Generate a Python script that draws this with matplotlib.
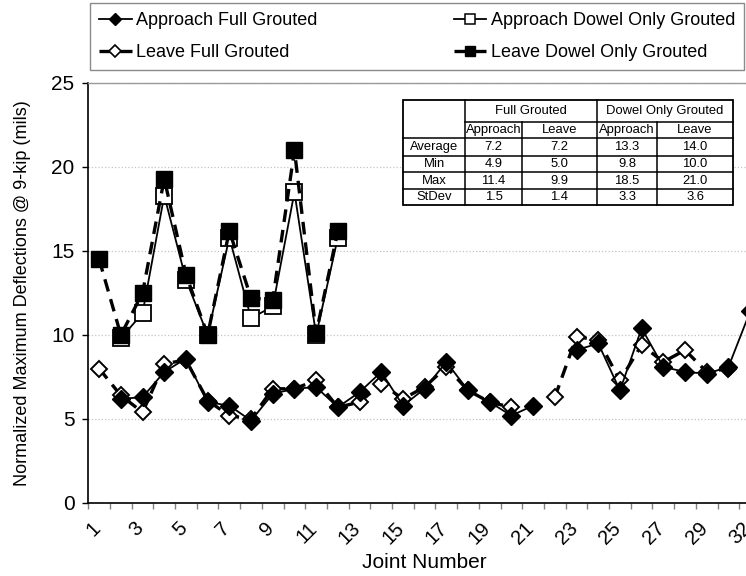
import numpy as np
import matplotlib
matplotlib.use("Agg")
import matplotlib.pyplot as plt
from matplotlib.lines import Line2D
from matplotlib.patches import Rectangle
from matplotlib.ticker import FixedLocator
import matplotlib.transforms as mtransforms
from matplotlib import font_manager

names = {f.name for f in font_manager.fontManager.ttflist}
NARROW = 'Liberation Sans Narrow' in names
if NARROW:
    plt.rcParams['font.family'] = ['Liberation Sans Narrow', 'Liberation Sans', 'DejaVu Sans']
    k = 1.18
else:
    plt.rcParams['font.family'] = ['Liberation Sans', 'DejaVu Sans']
    k = 1.0

nan = np.nan
# ---------------- data ----------------
joints = [1, 2, 3, 4, 5, 6, 7, 8, 9, 10, 11, 12, 13, 14, 15, 16, 17, 18, 19, 20,
          21, 22, 23, 24, 25, 26, 27, 28, 29, 30, 32]
approach_full = [nan, 6.2, 6.3, 7.8, 8.6, 6.0, 5.8, 4.9, 6.5, 6.8, 6.9, 5.7, 6.6, 7.8, 5.8, 6.8,
                 8.4, 6.7, 6.0, 5.2, 5.8, nan, 9.1, 9.5, 6.7, 10.4, 8.1, 7.8, 7.7, 8.1, 11.4]
leave_full = [8.0, 6.4, 5.4, 8.3, 8.5, 6.1, 5.2, 5.0, 6.8, 6.8, 7.3, 5.7, 6.0, 7.1, 6.2, 6.9,
              8.1, 6.7, 6.0, 5.7, nan, 6.3, 9.9, 9.7, 7.3, 9.4, 8.4, 9.1, 7.8, 8.0, nan]
# dowel-only grouted joints: 1..12
approach_dowel = [nan, 9.8, 11.3, 18.3, 13.3, 10.0, 15.8, 11.0, 11.7, 18.5, 10.0, 15.8]
leave_dowel = [14.5, 10.0, 12.5, 19.3, 13.6, 10.0, 16.2, 12.2, 12.1, 21.0, 10.1, 16.2]

series_labels = ["Approach Full Grouted", "Leave Full Grouted",
                 "Approach Dowel Only Grouted", "Leave Dowel Only Grouted"]

stat_names = ["Average", "Min", "Max", "StDev"]
stat_full_approach = [7.2, 4.9, 11.4, 1.5]
stat_full_leave = [7.2, 5.0, 9.9, 1.4]
stat_dowel_approach = [13.3, 9.8, 18.5, 3.3]
stat_dowel_leave = [14.0, 10.0, 21.0, 3.6]
group_names = ["Full Grouted", "Dowel Only Grouted"]
sub_names = ["Approach", "Leave", "Approach", "Leave"]

y_ticks = [0, 5, 10, 15, 20, 25]

# ---------------- figure ----------------
W, H = 746, 576
fig = plt.figure(figsize=(W / 100, H / 100), dpi=100)

ax_left, ax_right, ax_top, ax_bot = 88.3, 88.3 + 31 * 21.7, 83.0, 503.0
ax = fig.add_axes([ax_left / W, 1 - ax_bot / H, (ax_right - ax_left) / W, (ax_bot - ax_top) / H])

x = np.arange(len(joints))
xd = np.arange(len(leave_dowel))

ls_dash = (0, (3.8, 2.4))

ax.plot(x, leave_full, color='black', lw=2.4, linestyle=ls_dash, marker='D', ms=8.5,
        mfc='white', mec='black', mew=1.4, zorder=3)
ax.plot(x, approach_full, color='black', lw=1.3, linestyle='-', marker='D', ms=8.8,
        mfc='black', mec='black', mew=1.0, zorder=4)
ax.plot(xd, approach_dowel, color='black', lw=1.3, linestyle='-', marker='s', ms=11,
        mfc='white', mec='black', mew=1.3, zorder=5)
ax.plot(xd, leave_dowel, color='black', lw=2.4, linestyle=ls_dash, marker='s', ms=11,
        mfc='black', mec='black', mew=1.0, zorder=6)

ax.set_xlim(-0.5, len(joints) - 0.5)
ax.set_ylim(0, 25)
ax.set_yticks(y_ticks)
ax.yaxis.grid(True, linestyle=':', color='#c4c4c4', lw=0.9)
ax.set_axisbelow(True)

ax.xaxis.set_major_locator(FixedLocator(x[::2]))
ax.set_xticklabels([str(joints[i]) for i in x[::2]])
ax.xaxis.set_minor_locator(FixedLocator(np.arange(len(joints) + 1) - 0.5))
ax.tick_params(axis='x', which='major', length=0, pad=16, labelsize=14.5 * k)
ax.tick_params(axis='x', which='minor', length=4.5, width=1.0, color='#808080', direction='out')
ax.tick_params(axis='y', which='major', length=4, width=1.0, direction='out', labelsize=15 * k, pad=6)
off = mtransforms.ScaledTranslation(-2 / 100, 0, fig.dpi_scale_trans)
for lab in ax.get_xticklabels():
    lab.set_rotation(45)
    lab.set_ha('right')
    lab.set_va('center')
    lab.set_rotation_mode('anchor')
    lab.set_transform(lab.get_transform() + off)

for s in ['left', 'bottom']:
    ax.spines[s].set_color('black')
    ax.spines[s].set_linewidth(1.2)
ax.spines['top'].set_color('#9a9a9a')
ax.spines['top'].set_linewidth(1.0)
ax.spines['right'].set_visible(False)

ax.set_xlabel("Joint Number", fontsize=15 * k)
ax.set_ylabel("Normalized Maximum Deflections @ 9-kip (mils)", fontsize=13 * k)
ax.xaxis.set_label_coords(0.5, -(553 - 503) / 420)
ax.yaxis.set_label_coords(-(88.3 - 14) / (ax_right - ax_left), 0.5)
ax.yaxis.label.set_va('top')

# ---------------- legend ----------------
h_af = Line2D([], [], color='black', lw=1.3, marker='D', ms=6, mfc='black', mec='black')
h_lf = Line2D([], [], color='black', lw=2.4, linestyle=ls_dash, marker='D', ms=6, mfc='white',
              mec='black', mew=1.2)
h_ad = Line2D([], [], color='black', lw=1.3, marker='s', ms=7, mfc='white', mec='black', mew=1.1)
h_ld = Line2D([], [], color='black', lw=2.4, linestyle=ls_dash, marker='s', ms=7, mfc='black',
              mec='black')
leg = fig.legend([h_af, h_lf, h_ad, h_ld], series_labels, ncol=2, loc='upper left',
                 bbox_to_anchor=(90 / W, 1 - 72 / H, (744 - 90) / W, 69 / H),
                 mode='expand', fontsize=13 * k, frameon=True, fancybox=False,
                 edgecolor='#8a8a8a', framealpha=1, borderpad=0.5, labelspacing=0.85,
                 handlelength=1.8 / k, handletextpad=0.25, borderaxespad=0)
leg.get_frame().set_linewidth(1.0)

# ---------------- statistics table ----------------
def fx(px):
    return px / W


def fy(py):
    return 1 - py / H


col_edges = [403, 465, 522, 597, 657, 733]
row_edges = [100, 122, 138, 156, 172, 189, 205]

fig.add_artist(Rectangle((fx(col_edges[0]), fy(row_edges[-1])),
                         (col_edges[-1] - col_edges[0]) / W, (row_edges[-1] - row_edges[0]) / H,
                         transform=fig.transFigure, facecolor='white', edgecolor='black',
                         lw=1.3, zorder=7))


def hline(y, x0, x1):
    fig.add_artist(Line2D([fx(x0), fx(x1)], [fy(y), fy(y)], transform=fig.transFigure,
                          color='black', lw=1.1, zorder=8))


def vline(xp, y0, y1):
    fig.add_artist(Line2D([fx(xp), fx(xp)], [fy(y0), fy(y1)], transform=fig.transFigure,
                          color='black', lw=1.1, zorder=8))


hline(row_edges[1], col_edges[1], col_edges[-1])
for r in row_edges[2:-1]:
    hline(r, col_edges[0], col_edges[-1])
vline(col_edges[1], row_edges[0], row_edges[-1])
vline(col_edges[3], row_edges[0], row_edges[-1])
vline(col_edges[2], row_edges[1], row_edges[-1])
vline(col_edges[4], row_edges[1], row_edges[-1])

tfs = 9.4 * k


def cell_text(txt, c0, c1, r0, r1):
    fig.text(fx((c0 + c1) / 2), fy((r0 + r1) / 2), txt, ha='center', va='center',
             fontsize=tfs, zorder=9)


cell_text(group_names[0], col_edges[1], col_edges[3], row_edges[0], row_edges[1])
cell_text(group_names[1], col_edges[3], col_edges[5], row_edges[0], row_edges[1])
for j, nm in enumerate(sub_names):
    cell_text(nm, col_edges[j + 1], col_edges[j + 2], row_edges[1], row_edges[2])
cols = [stat_full_approach, stat_full_leave, stat_dowel_approach, stat_dowel_leave]
for i, nm in enumerate(stat_names):
    cell_text(nm, col_edges[0], col_edges[1], row_edges[i + 2], row_edges[i + 3])
    for j, col in enumerate(cols):
        cell_text(f"{col[i]:.1f}", col_edges[j + 1], col_edges[j + 2], row_edges[i + 2], row_edges[i + 3])

fig.savefig("out.png", dpi=100)
